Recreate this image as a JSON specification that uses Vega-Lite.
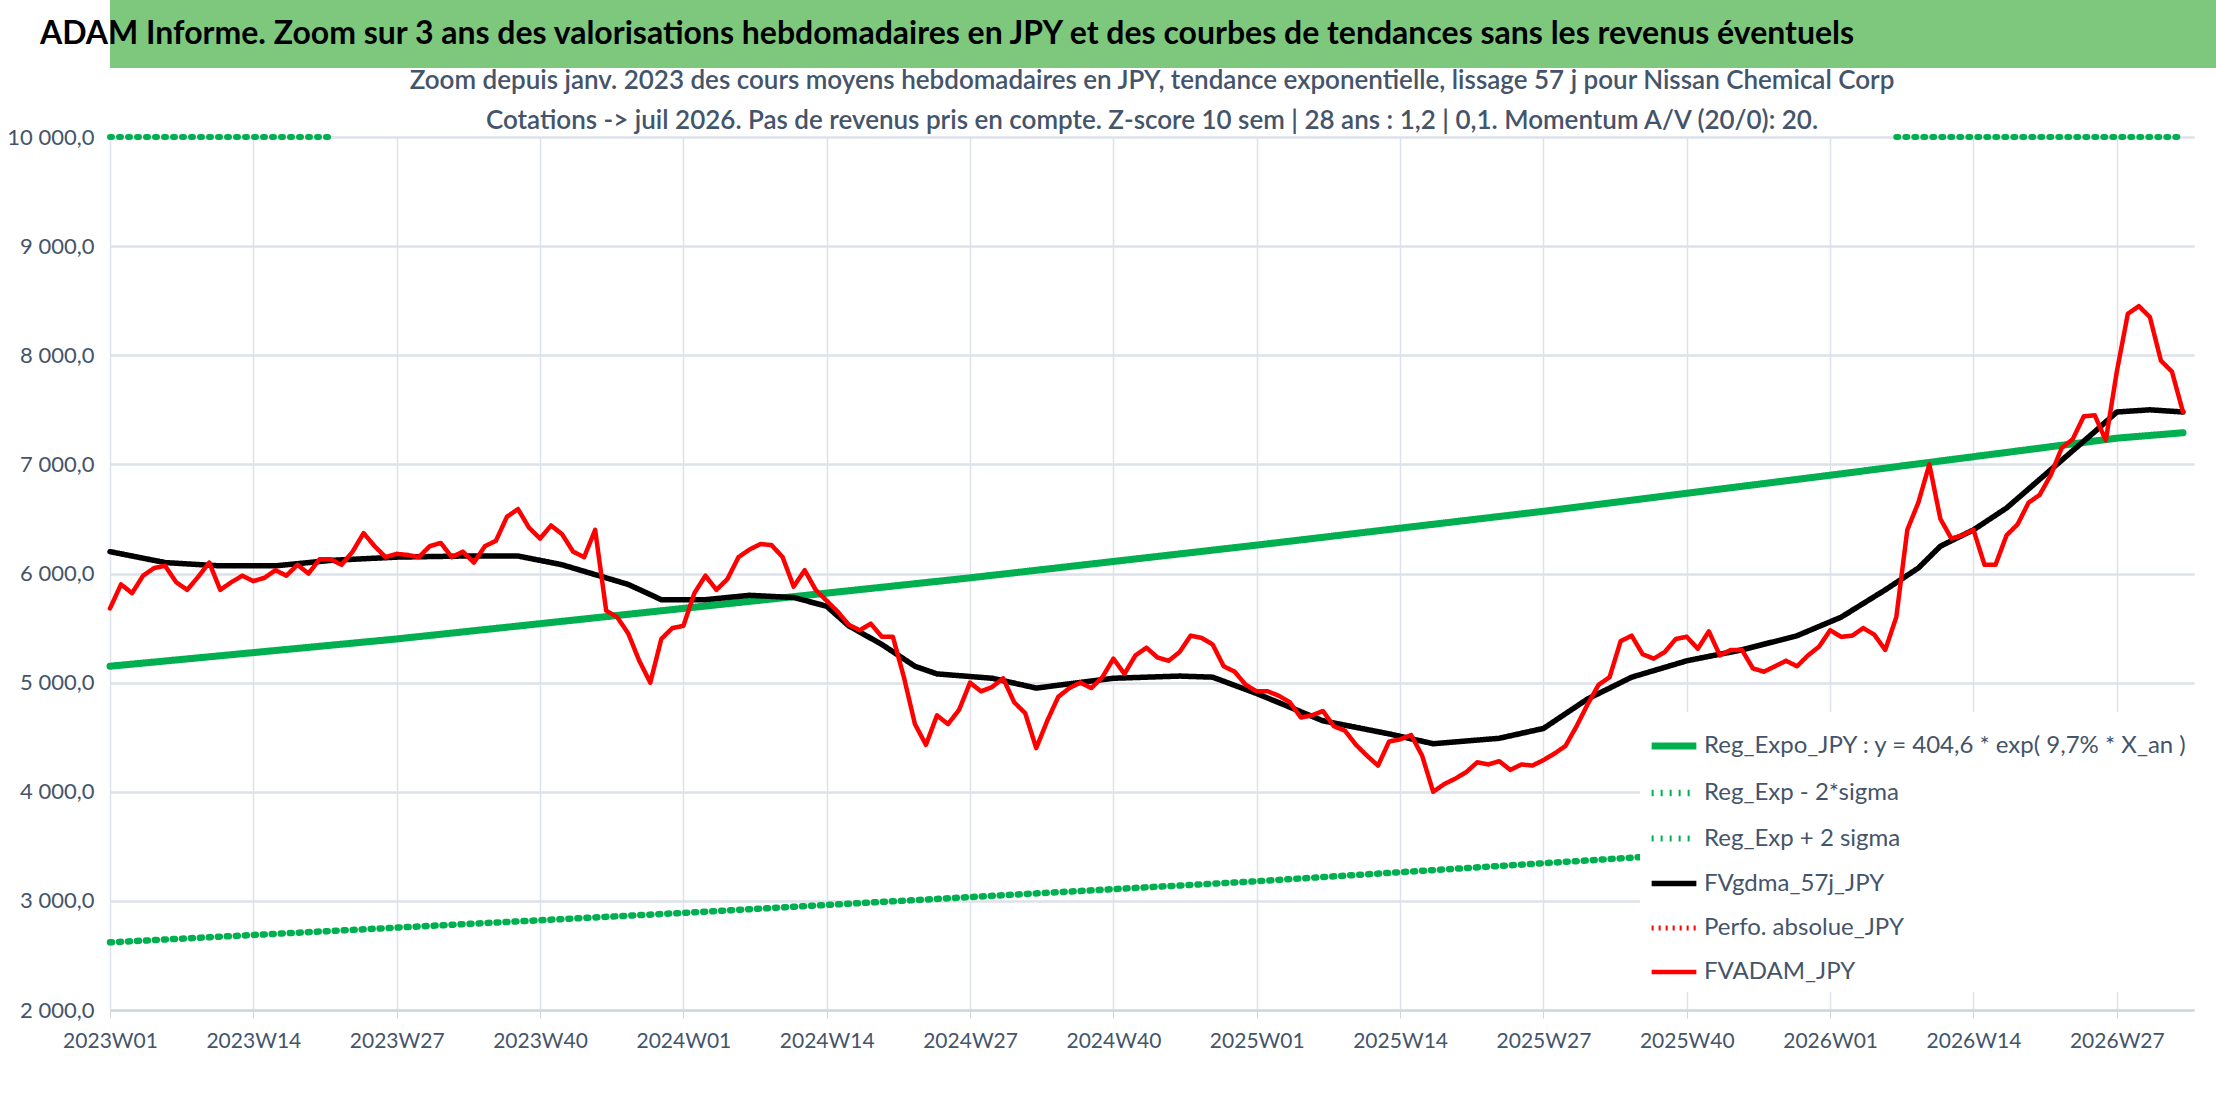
{
  "$schema": "https://vega.github.io/schema/vega-lite/v6.json",
  "padding": 0,
  "spacing": 0,
  "background": "white",
  "config": {
    "view": {"stroke": null},
    "font": "Lato, sans-serif",
    "concat": {"spacing": 0},
    "legend": {"symbolStrokeWidth": 5}
  },
  "vconcat": [
    {
      "width": 2216,
      "height": 68,
      "view": {"fill": "#7ec87e", "stroke": null},
      "data": {"values": [{"t": "ADAM Informe. Zoom sur 3 ans des valorisations hebdomadaires en JPY et des courbes de tendances sans les revenus éventuels"}]},
      "mark": {"type": "text", "align": "left", "baseline": "middle", "fontSize": 32, "fontWeight": "bold", "color": "black"},
      "encoding": {
        "x": {"value": -70},
        "y": {"value": 34},
        "text": {"field": "t"}
      }
    },
    {
      "width": 2084,
      "height": 873,
      "title": {
        "text": [
          "Zoom depuis janv. 2023 des cours moyens hebdomadaires en JPY, tendance exponentielle, lissage 57 j pour Nissan Chemical Corp",
          "Cotations -> juil 2026. Pas de revenus pris en compte. Z-score 10 sem | 28 ans : 1,2 | 0,1. Momentum A/V (20/0): 20."
        ],
        "fontSize": 26,
        "fontWeight": 600,
        "color": "#44546a",
        "lineHeight": 40,
        "anchor": "middle",
        "offset": -8
      },
      "data": {"values": [
        {"s":"A","i":0,"v":5150},{"s":"A","i":26,"v":5400},{"s":"A","i":52,"v":5680},{"s":"A","i":78,"v":5960},{"s":"A","i":104,"v":6260},{"s":"A","i":130,"v":6570},{"s":"A","i":156,"v":6900},{"s":"A","i":182,"v":7240},{"s":"A","i":188,"v":7290},
        {"s":"B","i":0,"v":2620},{"s":"B","i":52,"v":2890},{"s":"B","i":104,"v":3180},{"s":"B","i":156,"v":3510},{"s":"B","i":188,"v":3710},
        {"s":"C","i":0,"v":10120},{"s":"C","i":20,"v":10500},{"s":"C","i":21,"v":null},{"s":"C","i":161,"v":null},{"s":"C","i":162,"v":13690},{"s":"C","i":188,"v":14360},
        {"s":"D","i":0,"v":6200},{"s":"D","i":5,"v":6100},{"s":"D","i":10,"v":6070},{"s":"D","i":15,"v":6070},{"s":"D","i":20,"v":6120},{"s":"D","i":26,"v":6150},{"s":"D","i":32,"v":6160},{"s":"D","i":37,"v":6160},{"s":"D","i":41,"v":6080},{"s":"D","i":47,"v":5900},{"s":"D","i":50,"v":5760},{"s":"D","i":54,"v":5760},{"s":"D","i":58,"v":5800},{"s":"D","i":62,"v":5780},{"s":"D","i":65,"v":5700},{"s":"D","i":67,"v":5520},{"s":"D","i":70,"v":5350},{"s":"D","i":73,"v":5150},{"s":"D","i":75,"v":5080},{"s":"D","i":80,"v":5040},{"s":"D","i":84,"v":4950},{"s":"D","i":91,"v":5040},{"s":"D","i":97,"v":5060},{"s":"D","i":100,"v":5050},{"s":"D","i":104,"v":4900},{"s":"D","i":110,"v":4650},{"s":"D","i":116,"v":4530},{"s":"D","i":120,"v":4440},{"s":"D","i":126,"v":4490},{"s":"D","i":130,"v":4580},{"s":"D","i":134,"v":4850},{"s":"D","i":138,"v":5050},{"s":"D","i":143,"v":5200},{"s":"D","i":148,"v":5300},{"s":"D","i":153,"v":5430},{"s":"D","i":157,"v":5600},{"s":"D","i":161,"v":5850},{"s":"D","i":164,"v":6050},{"s":"D","i":166,"v":6250},{"s":"D","i":169,"v":6400},{"s":"D","i":172,"v":6600},{"s":"D","i":176,"v":6950},{"s":"D","i":180,"v":7300},{"s":"D","i":182,"v":7480},{"s":"D","i":185,"v":7500},{"s":"D","i":188,"v":7480},
        {"s":"F","i":0,"v":5680},{"s":"F","i":1,"v":5900},{"s":"F","i":2,"v":5820},{"s":"F","i":3,"v":5980},{"s":"F","i":4,"v":6050},{"s":"F","i":5,"v":6070},{"s":"F","i":6,"v":5920},{"s":"F","i":7,"v":5850},{"s":"F","i":8,"v":5970},{"s":"F","i":9,"v":6100},
        {"s":"F","i":10,"v":5850},{"s":"F","i":11,"v":5920},{"s":"F","i":12,"v":5980},{"s":"F","i":13,"v":5930},{"s":"F","i":14,"v":5960},{"s":"F","i":15,"v":6030},{"s":"F","i":16,"v":5980},{"s":"F","i":17,"v":6080},{"s":"F","i":18,"v":6000},{"s":"F","i":19,"v":6130},
        {"s":"F","i":20,"v":6130},{"s":"F","i":21,"v":6080},{"s":"F","i":22,"v":6200},{"s":"F","i":23,"v":6370},{"s":"F","i":24,"v":6250},{"s":"F","i":25,"v":6150},{"s":"F","i":26,"v":6180},{"s":"F","i":27,"v":6170},{"s":"F","i":28,"v":6150},{"s":"F","i":29,"v":6250},
        {"s":"F","i":30,"v":6280},{"s":"F","i":31,"v":6150},{"s":"F","i":32,"v":6200},{"s":"F","i":33,"v":6100},{"s":"F","i":34,"v":6250},{"s":"F","i":35,"v":6300},{"s":"F","i":36,"v":6520},{"s":"F","i":37,"v":6590},{"s":"F","i":38,"v":6420},{"s":"F","i":39,"v":6320},
        {"s":"F","i":40,"v":6440},{"s":"F","i":41,"v":6360},{"s":"F","i":42,"v":6200},{"s":"F","i":43,"v":6150},{"s":"F","i":44,"v":6400},{"s":"F","i":45,"v":5660},{"s":"F","i":46,"v":5600},{"s":"F","i":47,"v":5450},{"s":"F","i":48,"v":5200},{"s":"F","i":49,"v":5000},
        {"s":"F","i":50,"v":5400},{"s":"F","i":51,"v":5500},{"s":"F","i":52,"v":5520},{"s":"F","i":53,"v":5820},{"s":"F","i":54,"v":5980},{"s":"F","i":55,"v":5850},{"s":"F","i":56,"v":5950},{"s":"F","i":57,"v":6150},{"s":"F","i":58,"v":6220},{"s":"F","i":59,"v":6270},
        {"s":"F","i":60,"v":6260},{"s":"F","i":61,"v":6150},{"s":"F","i":62,"v":5880},{"s":"F","i":63,"v":6030},{"s":"F","i":64,"v":5850},{"s":"F","i":65,"v":5750},{"s":"F","i":66,"v":5650},{"s":"F","i":67,"v":5530},{"s":"F","i":68,"v":5480},{"s":"F","i":69,"v":5540},
        {"s":"F","i":70,"v":5420},{"s":"F","i":71,"v":5420},{"s":"F","i":72,"v":5050},{"s":"F","i":73,"v":4620},{"s":"F","i":74,"v":4430},{"s":"F","i":75,"v":4700},{"s":"F","i":76,"v":4620},{"s":"F","i":77,"v":4750},{"s":"F","i":78,"v":5000},{"s":"F","i":79,"v":4920},
        {"s":"F","i":80,"v":4960},{"s":"F","i":81,"v":5040},{"s":"F","i":82,"v":4820},{"s":"F","i":83,"v":4720},{"s":"F","i":84,"v":4400},{"s":"F","i":85,"v":4650},{"s":"F","i":86,"v":4870},{"s":"F","i":87,"v":4950},{"s":"F","i":88,"v":5000},{"s":"F","i":89,"v":4950},
        {"s":"F","i":90,"v":5050},{"s":"F","i":91,"v":5220},{"s":"F","i":92,"v":5080},{"s":"F","i":93,"v":5250},{"s":"F","i":94,"v":5320},{"s":"F","i":95,"v":5230},{"s":"F","i":96,"v":5200},{"s":"F","i":97,"v":5280},{"s":"F","i":98,"v":5430},{"s":"F","i":99,"v":5410},
        {"s":"F","i":100,"v":5350},{"s":"F","i":101,"v":5150},{"s":"F","i":102,"v":5100},{"s":"F","i":103,"v":4980},{"s":"F","i":104,"v":4920},{"s":"F","i":105,"v":4920},{"s":"F","i":106,"v":4880},{"s":"F","i":107,"v":4820},{"s":"F","i":108,"v":4680},{"s":"F","i":109,"v":4700},
        {"s":"F","i":110,"v":4740},{"s":"F","i":111,"v":4600},{"s":"F","i":112,"v":4560},{"s":"F","i":113,"v":4430},{"s":"F","i":114,"v":4330},{"s":"F","i":115,"v":4240},{"s":"F","i":116,"v":4460},{"s":"F","i":117,"v":4480},{"s":"F","i":118,"v":4520},{"s":"F","i":119,"v":4330},
        {"s":"F","i":120,"v":4000},{"s":"F","i":121,"v":4070},{"s":"F","i":122,"v":4120},{"s":"F","i":123,"v":4180},{"s":"F","i":124,"v":4270},{"s":"F","i":125,"v":4250},{"s":"F","i":126,"v":4280},{"s":"F","i":127,"v":4200},{"s":"F","i":128,"v":4250},{"s":"F","i":129,"v":4240},
        {"s":"F","i":130,"v":4290},{"s":"F","i":131,"v":4350},{"s":"F","i":132,"v":4420},{"s":"F","i":133,"v":4600},{"s":"F","i":134,"v":4800},{"s":"F","i":135,"v":4980},{"s":"F","i":136,"v":5050},{"s":"F","i":137,"v":5380},{"s":"F","i":138,"v":5430},{"s":"F","i":139,"v":5260},
        {"s":"F","i":140,"v":5220},{"s":"F","i":141,"v":5280},{"s":"F","i":142,"v":5400},{"s":"F","i":143,"v":5420},{"s":"F","i":144,"v":5310},{"s":"F","i":145,"v":5470},{"s":"F","i":146,"v":5250},{"s":"F","i":147,"v":5300},{"s":"F","i":148,"v":5300},{"s":"F","i":149,"v":5130},
        {"s":"F","i":150,"v":5100},{"s":"F","i":151,"v":5150},{"s":"F","i":152,"v":5200},{"s":"F","i":153,"v":5150},{"s":"F","i":154,"v":5250},{"s":"F","i":155,"v":5330},{"s":"F","i":156,"v":5480},{"s":"F","i":157,"v":5420},{"s":"F","i":158,"v":5430},{"s":"F","i":159,"v":5500},
        {"s":"F","i":160,"v":5440},{"s":"F","i":161,"v":5300},{"s":"F","i":162,"v":5600},{"s":"F","i":163,"v":6400},{"s":"F","i":164,"v":6650},{"s":"F","i":165,"v":7000},{"s":"F","i":166,"v":6500},{"s":"F","i":167,"v":6320},{"s":"F","i":168,"v":6350},{"s":"F","i":169,"v":6400},
        {"s":"F","i":170,"v":6080},{"s":"F","i":171,"v":6080},{"s":"F","i":172,"v":6350},{"s":"F","i":173,"v":6450},{"s":"F","i":174,"v":6650},{"s":"F","i":175,"v":6720},{"s":"F","i":176,"v":6900},{"s":"F","i":177,"v":7150},{"s":"F","i":178,"v":7230},{"s":"F","i":179,"v":7440},
        {"s":"F","i":180,"v":7450},{"s":"F","i":181,"v":7220},{"s":"F","i":182,"v":7850},{"s":"F","i":183,"v":8380},{"s":"F","i":184,"v":8450},{"s":"F","i":185,"v":8350},{"s":"F","i":186,"v":7950},{"s":"F","i":187,"v":7850},{"s":"F","i":188,"v":7480}
      ]},
      "mark": {"type": "line", "strokeCap": "round", "strokeJoin": "round", "invalid": "break-paths-show-domains"},
      "encoding": {
        "x": {
          "field": "i",
          "type": "quantitative",
          "scale": {"domain": [0, 189], "nice": false, "zero": false},
          "axis": {
            "title": null,
            "values": [0, 13, 26, 39, 52, 65, 78, 91, 104, 117, 130, 143, 156, 169, 182],
            "labelExpr": "(2023 + floor(datum.value / 52)) + 'W' + ((datum.value % 52) + 1 < 10 ? '0' : '') + ((datum.value % 52) + 1)",
            "labelFontSize": 21,
            "labelFlush": false,
            "labelColor": "#44546a",
            "labelPadding": 12,
            "grid": true,
            "gridColor": "#dde2ea",
            "gridWidth": 1.5,
            "domainColor": "#d0d5dd",
            "domainWidth": 2,
            "tickColor": "#d0d5dd",
            "tickSize": 8
          }
        },
        "y": {
          "field": "v",
          "type": "quantitative",
          "scale": {"domain": [2000, 10000], "nice": false, "zero": false, "clamp": true},
          "axis": {
            "title": null,
            "values": [2000, 3000, 4000, 5000, 6000, 7000, 8000, 9000, 10000],
            "labelExpr": "replace(replace(format(datum.value, ',.1f'), ',', ' '), '.', ',')",
            "labelFontSize": 22,
            "labelColor": "#44546a",
            "labelPadding": 16,
            "grid": true,
            "gridColor": "#dde2ea",
            "gridWidth": 2.5,
            "domain": false,
            "ticks": false,
            "minExtent": 110
          }
        },
        "color": {
          "field": "s",
          "type": "nominal",
          "scale": {"domain": ["A", "B", "C", "D", "E", "F"], "range": ["#00b050", "#00b050", "#00b050", "#000000", "#ff0000", "#ff0000"]},
          "legend": {
            "title": null,
            "orient": "none",
            "legendX": 1530,
            "legendY": 712,
            "fillColor": "white",
            "padding": 8,
            "labelFontSize": 24,
            "labelColor": "#44546a",
            "labelLimit": 0,
            "symbolType": "stroke",
            "symbolSize": 2000,
            "symbolStrokeWidth": 5,
            "rowPadding": 7,
            "labelExpr": "{'A': 'Reg_Expo_JPY : y = 404,6 * exp( 9,7% *  X_an )', 'B': 'Reg_Exp - 2*sigma', 'C': 'Reg_Exp + 2 sigma', 'D': 'FVgdma_57j_JPY', 'E': 'Perfo. absolue_JPY', 'F': 'FVADAM_JPY'}[datum.value]"
          }
        },
        "strokeDash": {
          "field": "s",
          "type": "nominal",
          "scale": {"domain": ["A", "B", "C", "D", "E", "F"], "range": [[1, 0], [2, 7], [2, 7], [1, 0], [2, 5], [1, 0]]},
          "legend": {"title": null}
        },
        "strokeWidth": {
          "field": "s",
          "type": "nominal",
          "scale": {"domain": ["A", "B", "C", "D", "E", "F"], "range": [7, 4.5, 4.5, 4, 3, 5]},
          "legend": null
        }
      }
    }
  ]
}
